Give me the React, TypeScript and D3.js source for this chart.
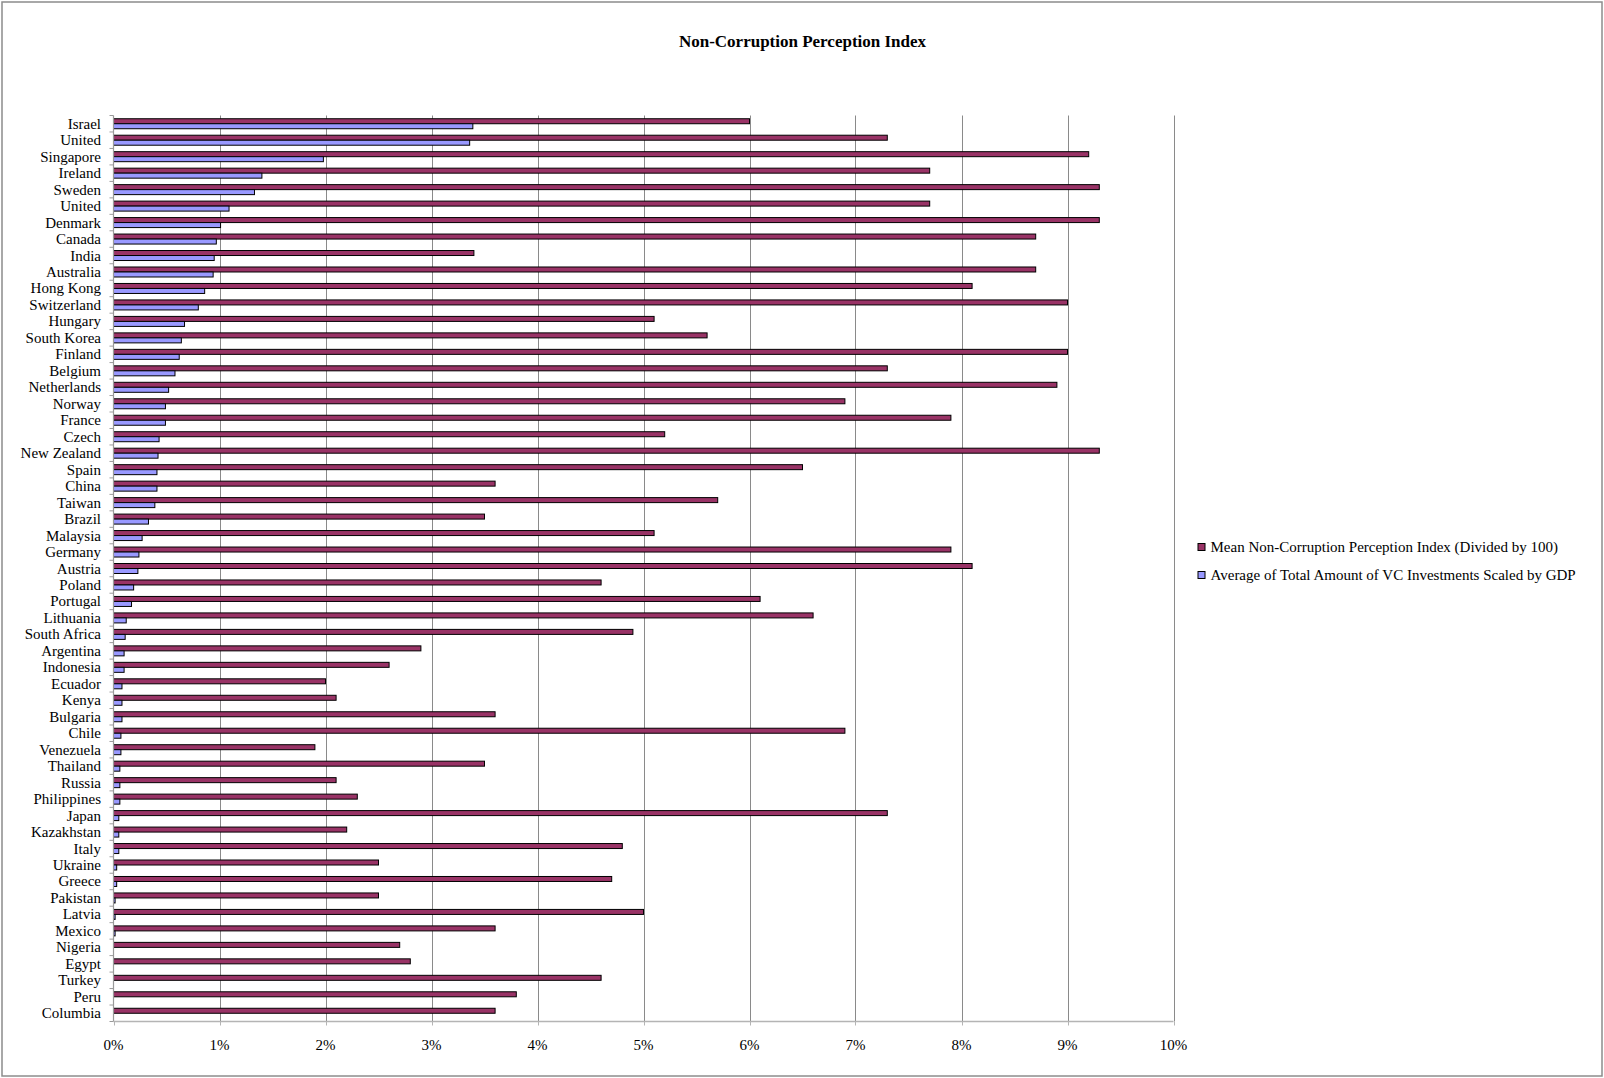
import React from "react";
import * as d3 from "d3";

// Countries, top to bottom
const countries: string[] = [
  "Israel", "United", "Singapore", "Ireland", "Sweden", "United", "Denmark", "Canada", "India",
  "Australia", "Hong Kong", "Switzerland", "Hungary", "South Korea", "Finland", "Belgium",
  "Netherlands", "Norway", "France", "Czech", "New Zealand", "Spain", "China", "Taiwan", "Brazil",
  "Malaysia", "Germany", "Austria", "Poland", "Portugal", "Lithuania", "South Africa", "Argentina",
  "Indonesia", "Ecuador", "Kenya", "Bulgaria", "Chile", "Venezuela", "Thailand", "Russia",
  "Philippines", "Japan", "Kazakhstan", "Italy", "Ukraine", "Greece", "Pakistan", "Latvia",
  "Mexico", "Nigeria", "Egypt", "Turkey", "Peru", "Columbia",
];

// Mean Non-Corruption Perception Index (divided by 100), in percent
const corruptionIndex: number[] = [
  6.0, 7.3, 9.2, 7.7, 9.3, 7.7, 9.3, 8.7, 3.4,
  8.7, 8.1, 9.0, 5.1, 5.6, 9.0, 7.3,
  8.9, 6.9, 7.9, 5.2, 9.3, 6.5, 3.6, 5.7, 3.5,
  5.1, 7.9, 8.1, 4.6, 6.1, 6.6, 4.9, 2.9,
  2.6, 2.0, 2.1, 3.6, 6.9, 1.9, 3.5, 2.1,
  2.3, 7.3, 2.2, 4.8, 2.5, 4.7, 2.5, 5.0,
  3.6, 2.7, 2.8, 4.6, 3.8, 3.6,
];

// Average total amount of VC investments scaled by GDP, in percent
const vcInvestments: number[] = [
  3.39, 3.36, 1.98, 1.40, 1.33, 1.09, 1.01, 0.97, 0.95,
  0.94, 0.86, 0.80, 0.67, 0.64, 0.62, 0.58,
  0.52, 0.49, 0.49, 0.43, 0.42, 0.41, 0.41, 0.39, 0.33,
  0.27, 0.24, 0.23, 0.19, 0.17, 0.12, 0.11, 0.10,
  0.10, 0.08, 0.08, 0.08, 0.07, 0.07, 0.06, 0.06,
  0.06, 0.05, 0.05, 0.05, 0.03, 0.03, 0.015, 0.015,
  0.015, 0, 0, 0, 0, 0,
];

const xTicks: number[] = [0, 1, 2, 3, 4, 5, 6, 7, 8, 9, 10];

const seriesNames: string[] = [
  "Mean Non-Corruption Perception Index (Divided by 100)",
  "Average of Total Amount of VC Investments Scaled by GDP",
];
const seriesColors: string[] = ["#993366", "#9999FF"];

const W = 1604;
const H = 1078;
const plot = { left: 113.5, right: 1173.5, top: 115.5, bottom: 1021.5 };
const FONT = "'Liberation Serif', 'Times New Roman', serif";

export default function App() {
  const x = d3.scaleLinear().domain([0, 10]).range([plot.left, plot.right]);
  const y = d3
    .scaleBand<number>()
    .domain(countries.map((_, i) => i))
    .range([plot.top, plot.bottom]);
  const bw = y.bandwidth();
  const barH = 5;
  const groupTop = (bw - barH * 2) / 2;

  const series = [corruptionIndex, vcInvestments];

  return (
    <div style={{ position: "absolute", left: 0, top: 0 }}>
      <svg width={W} height={H} style={{ display: "block", background: "#fff" }}>
        <rect x={2} y={2} width={W - 4} height={H - 4} fill="#fff" stroke="#8c8c8c" strokeWidth={1.5} />

        <text
          x={802.5}
          y={46.5}
          textAnchor="middle"
          fontFamily={FONT}
          fontWeight="bold"
          fontSize={17}
          fill="#000"
        >
          Non-Corruption Perception Index
        </text>

        {/* vertical gridlines */}
        {xTicks.slice(1).map((t) => (
          <line
            key={"g" + t}
            x1={Math.round(x(t)) + 0.5}
            x2={Math.round(x(t)) + 0.5}
            y1={plot.top}
            y2={plot.bottom}
            stroke="#8a8a8a"
            strokeWidth={1}
          />
        ))}

        {/* bars */}
        {countries.map((_, i) => (
          <g key={"c" + i}>
            {series.map((vals, s) =>
              vals[i] > 0 ? (
                <rect
                  key={s}
                  x={x(0)}
                  y={(y(i) as number) + groupTop + s * barH}
                  width={x(vals[i]) - x(0)}
                  height={barH}
                  fill={seriesColors[s]}
                  stroke="#000"
                  strokeWidth={1}
                />
              ) : null
            )}
          </g>
        ))}

        {/* category axis */}
        <line x1={plot.left} x2={plot.left} y1={plot.top} y2={plot.bottom} stroke="#9a9a9a" strokeWidth={1.2} />
        {countries.map((_, i) => (
          <line
            key={"t" + i}
            x1={plot.left - 4}
            x2={plot.left}
            y1={(y(i) as number)}
            y2={(y(i) as number)}
            stroke="#9a9a9a"
            strokeWidth={1}
          />
        ))}
        <line x1={plot.left - 4} x2={plot.left} y1={plot.bottom} y2={plot.bottom} stroke="#9a9a9a" strokeWidth={1} />
        {countries.map((name, i) => (
          <text
            key={"l" + i}
            x={101}
            y={(y(i) as number) + bw / 2 + 5}
            textAnchor="end"
            fontFamily={FONT}
            fontSize={15}
            fill="#000"
          >
            {name}
          </text>
        ))}

        {/* value axis */}
        <line x1={plot.left} x2={plot.right} y1={plot.bottom} y2={plot.bottom} stroke="#b4b4b4" strokeWidth={1.5} />
        {xTicks.map((t) => (
          <g key={"x" + t}>
            <line
              x1={Math.round(x(t)) + 0.5}
              x2={Math.round(x(t)) + 0.5}
              y1={plot.bottom}
              y2={plot.bottom + 4}
              stroke="#b4b4b4"
              strokeWidth={1}
            />
            <text
              x={x(t)}
              y={1049.5}
              textAnchor="middle"
              fontFamily={FONT}
              fontSize={15}
              fill="#000"
            >
              {`${t}%`}
            </text>
          </g>
        ))}

        {/* legend */}
        {seriesNames.map((name, s) => (
          <g key={"lg" + s} transform={`translate(1198, ${547 + s * 28})`}>
            <rect x={0} y={-3.5} width={7} height={7} fill={seriesColors[s]} stroke="#000" strokeWidth={1} />
            <text x={12.5} y={5} fontFamily={FONT} fontSize={15} fill="#000">
              {name}
            </text>
          </g>
        ))}
      </svg>
    </div>
  );
}
